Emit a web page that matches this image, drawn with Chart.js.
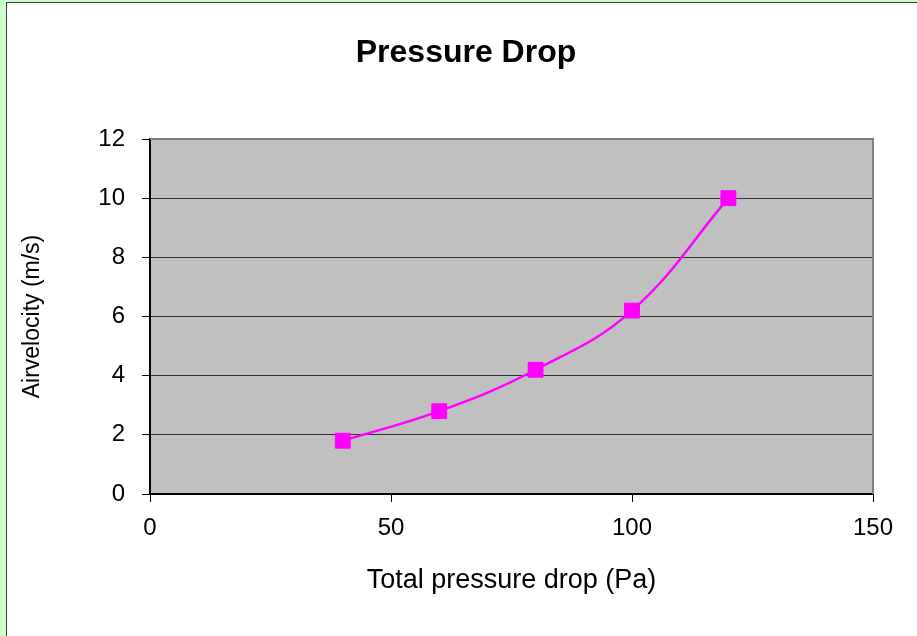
<!DOCTYPE html>
<html>
<head>
<meta charset="utf-8">
<script src="https://cdn.jsdelivr.net/npm/chart.js@4"></script>
<style>
  html, body { margin: 0; padding: 0; width: 917px; height: 636px; overflow: hidden; background: #ccffcc; }
  #frame { position: absolute; left: 6px; top: 2px; width: 930px; height: 650px; background: #ffffff; border-left: 1px solid #404040; border-top: 1px solid #404040; }
  #wrap { position: absolute; left: 0; top: 0; width: 917px; height: 636px; }
</style>
</head>
<body>
<div id="frame"></div>
<div id="wrap"><canvas id="c" width="917" height="636"></canvas></div>
<script>
const titleText = 'Pressure Drop';
const xTitle = 'Total pressure drop (Pa)';
const yTitle = 'Airvelocity (m/s)';
const pressureDrop = [40, 60, 80, 100, 120];
const airVelocity = [1.8, 2.8, 4.2, 6.2, 10];
const xTicks = [0, 50, 100, 150];
const yTicks = [0, 2, 4, 6, 8, 10, 12];

const points = pressureDrop.map((x, i) => ({ x: x, y: airVelocity[i] }));
const FONT = '"Liberation Sans", Arial, sans-serif';

const plotBg = {
  id: 'plotBg',
  beforeDraw(chart) {
    const { ctx, chartArea: a } = chart;
    ctx.save();
    ctx.fillStyle = '#c0c0c0';
    ctx.fillRect(a.left, a.top, a.right - a.left, a.bottom - a.top);
    ctx.restore();
  },
  beforeDatasetsDraw(chart) {
    const { ctx, chartArea: a } = chart;
    ctx.save();
    ctx.strokeStyle = '#808080';
    ctx.lineWidth = 2;
    ctx.beginPath();
    ctx.moveTo(a.left, a.top);
    ctx.lineTo(a.right, a.top);
    ctx.lineTo(a.right, a.bottom);
    ctx.stroke();
    ctx.restore();
  }
};

new Chart(document.getElementById('c'), {
  type: 'scatter',
  data: {
    datasets: [{
      data: points,
      showLine: true,
      borderColor: '#ff00ff',
      backgroundColor: '#ff00ff',
      borderWidth: 2.5,
      tension: 0.4,
      pointStyle: 'rect',
      pointRadius: 10.5,
      pointBorderWidth: 1,
      pointBorderColor: '#ff00ff',
      pointBackgroundColor: '#ff00ff'
    }]
  },
  options: {
    responsive: false,
    animation: false,
    devicePixelRatio: 1,
    layout: { padding: { left: 15, right: 0, top: 0, bottom: 0 } },
    plugins: {
      legend: { display: false },
      tooltip: { enabled: false },
      title: {
        display: true,
        text: titleText,
        color: '#000',
        font: { family: FONT, size: 32, weight: 'bold' },
        padding: { top: 34, bottom: 66.6 }
      }
    },
    scales: {
      x: {
        type: 'linear',
        position: 'bottom',
        min: 0, max: 150,
        afterBuildTicks: s => { s.ticks = xTicks.map(v => ({ value: v })); },
        afterFit: s => { s.height = 142; },
        ticks: { color: '#000', font: { family: FONT, size: 24 }, padding: 12, maxRotation: 0 },
        grid: { drawOnChartArea: false, tickLength: 8, tickColor: '#000', tickWidth: 1 },
        border: { color: '#000', width: 2 },
        title: { display: true, text: xTitle, color: '#000', font: { family: FONT, size: 27 }, padding: { top: 0, bottom: 38.8 } }
      },
      y: {
        type: 'linear',
        position: 'left',
        min: 0, max: 12,
        afterBuildTicks: s => { s.ticks = yTicks.map(v => ({ value: v })); },
        afterFit: s => { s.width = 135; },
        ticks: { color: '#000', font: { family: FONT, size: 24 }, padding: 17 },
        grid: {
          color: ctx => (ctx.tick && ctx.tick.value === 12) ? '#808080' : '#333333',
          lineWidth: 1,
          tickLength: 8, tickColor: '#000', tickWidth: 1
        },
        border: { color: '#000', width: 2 },
        title: { display: true, text: yTitle, color: '#000', font: { family: FONT, size: 23 }, padding: { top: 4.2, bottom: 0 } }
      },
      yRight: {
        type: 'linear',
        position: 'right',
        display: true,
        min: 0, max: 12,
        afterFit: s => { s.width = 44; },
        ticks: { display: false },
        grid: { display: false },
        border: { display: false }
      }
    }
  },
  plugins: [plotBg]
});
</script>
</body>
</html>
